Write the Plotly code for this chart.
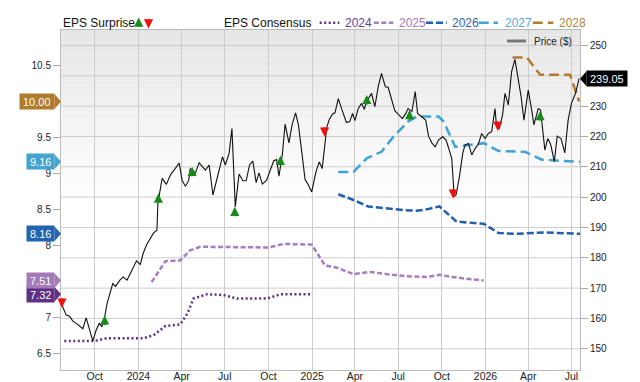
import plotly.graph_objects as go

# ---------------- data ----------------
price_dates = [
    "2023-07-24","2023-08-02","2023-08-09","2023-08-16","2023-08-24","2023-09-06","2023-09-13","2023-09-20","2023-09-27","2023-10-04",
    "2023-10-11","2023-10-16","2023-10-22","2023-10-27","2023-11-03","2023-11-08","2023-11-14","2023-11-23","2023-11-30","2023-12-08",
    "2023-12-15","2023-12-22","2023-12-28","2024-01-05","2024-01-11","2024-01-18","2024-01-26","2024-02-02","2024-02-09","2024-02-11",
    "2024-02-20","2024-02-29","2024-03-08","2024-03-15","2024-03-27","2024-04-02","2024-04-09","2024-04-16","2024-04-19","2024-04-30",
    "2024-05-08","2024-05-21","2024-05-29","2024-06-06","2024-06-14","2024-06-26","2024-07-02","2024-07-10","2024-07-16","2024-07-23",
    "2024-07-31","2024-08-08","2024-08-15","2024-08-22","2024-08-29","2024-09-05","2024-09-11","2024-09-18","2024-09-27","2024-10-05",
    "2024-10-12","2024-10-18","2024-10-23","2024-10-30","2024-11-05","2024-11-13","2024-11-20","2024-11-27","2024-12-03","2024-12-10",
    "2024-12-17","2024-12-23","2024-12-31","2025-01-09","2025-01-16","2025-01-22","2025-01-28","2025-02-01","2025-02-06","2025-02-13",
    "2025-02-18","2025-02-25","2025-03-05","2025-03-14","2025-03-21","2025-03-27","2025-04-01","2025-04-08","2025-04-15","2025-04-21",
    "2025-04-24","2025-05-01","2025-05-06","2025-05-13","2025-05-20","2025-05-27","2025-06-04","2025-06-10","2025-06-17","2025-06-24",
    "2025-07-01","2025-07-10","2025-07-17","2025-07-22","2025-07-30","2025-08-06","2025-08-11","2025-08-20","2025-08-28","2025-09-03",
    "2025-09-10","2025-09-17","2025-09-24","2025-10-03","2025-10-10","2025-10-17","2025-10-22","2025-10-27","2025-10-31","2025-11-07",
    "2025-11-14","2025-11-19","2025-11-26","2025-12-03","2025-12-10","2025-12-17","2025-12-24","2025-12-31","2026-01-07","2026-01-14",
    "2026-01-21","2026-01-24","2026-01-30","2026-02-06","2026-02-11","2026-02-18","2026-02-25","2026-03-04","2026-03-11","2026-03-17",
    "2026-03-23","2026-04-01","2026-04-08","2026-04-13","2026-04-22","2026-04-27","2026-05-06","2026-05-12","2026-05-18","2026-05-26",
    "2026-06-01","2026-06-09","2026-06-17","2026-06-24","2026-07-01","2026-07-10","2026-07-17",
]
price_values = [
    164.4,161.1,160.7,159.1,158.3,156.6,160.2,156.3,152.6,156.1,
    158.5,157.2,160.5,164.9,169.3,171.5,170.6,172.6,173.7,172.6,
    174.8,177.2,179.0,177.8,181.4,184.2,186.3,188.2,189.1,197.9,
    206.2,204.2,207.2,208.8,211.2,205.5,203.6,205.5,209.4,208.0,
    211.3,208.9,210.6,200.7,206.1,213.3,210.6,214.4,222.6,196.8,
    207.6,205.4,205.4,210.6,211.9,204.8,208.0,204.3,205.6,208.9,
    212.0,212.4,206.9,213.9,224.1,217.9,224.1,227.8,223.8,215.0,
    205.8,204.3,201.7,208.4,211.6,209.4,216.6,223.2,225.6,227.4,
    227.8,232.5,228.7,224.6,224.9,227.6,225.2,229.2,230.9,228.9,
    231.1,233.1,234.2,229.8,236.4,240.8,236.4,236.2,232.0,228.5,
    227.4,225.9,227.6,229.2,228.2,234.8,227.6,226.5,225.4,220.1,
    217.9,216.6,218.8,219.9,218.8,215.3,212.7,200.3,200.7,206.7,
    214.4,217.2,217.7,213.9,216.0,217.5,221.0,219.3,221.0,221.6,
    229.2,223.8,222.6,227.1,234.2,230.4,241.4,245.4,239.1,233.1,
    225.4,235.3,228.9,223.8,229.2,228.7,215.5,219.3,217.5,211.7,
    220.1,219.3,214.6,225.4,230.9,234.4,239.05,
]

eps2024_dates = ["2023-07-29","2023-09-29","2023-10-27","2024-01-12","2024-02-02","2024-02-27","2024-03-29",
                 "2024-04-13","2024-04-26","2024-05-24","2024-06-28","2024-07-27","2024-09-28","2024-10-26","2024-12-28"]
eps2024 = [6.67,6.67,6.71,6.71,6.75,6.88,6.90,7.05,7.26,7.32,7.31,7.26,7.26,7.32,7.32]

eps2025_dates = ["2024-01-29","2024-02-27","2024-03-29","2024-04-19","2024-05-10","2024-10-01","2024-11-02","2024-12-31",
                 "2025-01-28","2025-02-22","2025-03-29","2025-05-03","2025-06-07","2025-07-19","2025-08-30","2025-09-27",
                 "2025-10-22","2025-12-28"]
eps2025 = [7.49,7.78,7.79,7.93,7.98,7.97,8.02,8.01,7.72,7.69,7.60,7.63,7.60,7.57,7.56,7.59,7.56,7.51]

eps2026_dates = ["2025-02-25","2025-03-29","2025-04-29","2025-06-07","2025-07-12","2025-08-09","2025-08-30","2025-09-26",
                 "2025-10-18","2025-11-01","2025-12-28","2026-01-29","2026-03-09","2026-05-03","2026-07-19"]
eps2026 = [8.71,8.63,8.54,8.51,8.49,8.48,8.50,8.54,8.41,8.33,8.30,8.17,8.16,8.18,8.16]

eps2027_dates = ["2025-02-25","2025-03-29","2025-04-26","2025-05-27","2025-06-21","2025-07-22","2025-08-09","2025-09-24",
                 "2025-10-05","2025-10-29","2025-11-23","2025-12-28","2026-01-29","2026-03-25","2026-04-30","2026-05-24",
                 "2026-07-19"]
eps2027 = [9.02,9.02,9.21,9.30,9.51,9.72,9.79,9.79,9.72,9.37,9.39,9.42,9.31,9.30,9.19,9.18,9.16]

eps2028_dates = ["2026-02-27","2026-03-29","2026-04-26","2026-06-28","2026-07-17"]
eps2028 = [10.61,10.61,10.37,10.37,10.00]

surprise_dates = ["2023-07-24","2023-10-22","2024-02-12","2024-04-23","2024-07-22","2024-10-26",
                  "2025-01-27","2025-04-26","2025-07-25","2025-10-25","2026-01-27","2026-04-26"]
surprise_dir = ["down","up","up","up","up","up","down","up","up","down","down","up"]
surprise_price = [163.5,161.0,201.2,210.0,196.8,213.6,219.9,233.7,228.7,199.5,221.8,228.4]

tick_dates = ["2023-10-01","2024-01-01","2024-04-01","2024-07-01","2024-10-01","2025-01-01",
              "2025-04-01","2025-07-01","2025-10-01","2026-01-01","2026-04-01","2026-07-01"]
tick_labels = ["Oct","2024","Apr","Jul","Oct","2025","Apr","Jul","Oct","2026","Apr","Jul"]

# left ticks visible (10 and 7.5 sit under the badges), right ticks (240 sits under the price badge)
eps_ticks = [6.5, 7, 8, 8.5, 9, 9.5, 10.5]
price_ticks = [150, 160, 170, 180, 190, 200, 210, 220, 230, 250]
price_grid = [150, 160, 170, 180, 190, 200, 210, 220, 230, 240, 250]

series_names = ["2024","2025","2026","2027","2028"]

# ---------------- styling ----------------
FONT = "Liberation Sans, Arial, sans-serif"
L, T, W, H = 61, 30, 519, 340
def px(x):  # pixel -> paper x
    return (x - L) / W
def py(y):  # pixel -> paper y
    return (T + H - y) / H

line_colors = ["#5c2d8c", "#a67cc2", "#1f5fae", "#3fa3d5", "#b07b2e"]
text_colors = ["#6a3d9a", "#a07ab9", "#2d64ad", "#5aa8d6", "#b0843c"]
badge_colors = ["#5e2f85", "#a47ab8", "#2264b2", "#45a3cf", "#b07b2e"]
dashes = ["2px,2.5px", "5px,2.5px", "7px,3px", "10px,5px", "10px,5px"]
GREEN, RED = "#1a8a1a", "#ee1111"
ARW = dict(arrowhead=2, arrowsize=0.8, arrowwidth=2.3)

eps_dates = [eps2024_dates, eps2025_dates, eps2026_dates, eps2027_dates, eps2028_dates]
eps_vals = [eps2024, eps2025, eps2026, eps2027, eps2028]

fig = go.Figure()

for d, v, c, ds in zip(eps_dates, eps_vals, line_colors, dashes):
    fig.add_trace(go.Scatter(x=d, y=v, mode="lines", yaxis="y",
                             line=dict(color=c, width=2.5, dash=ds),
                             showlegend=False, hoverinfo="skip"))

fig.add_trace(go.Scatter(x=price_dates, y=price_values, mode="lines", yaxis="y2",
                         line=dict(color="#111111", width=1.1),
                         showlegend=False, hoverinfo="skip"))

annotations = []
shapes = []

# background gradient (top half of plot)
N = 40
for i in range(N):
    t = (i + 0.5) / N
    g = int(round(255 - (255 - 229) * t))
    shapes.append(dict(type="rect", xref="paper", yref="paper", x0=0, x1=1,
                       y0=0.5 + 0.5 * i / N, y1=0.5 + 0.5 * (i + 1) / N,
                       fillcolor=f"rgb({g},{g},{g})", line=dict(width=0), layer="below"))

# surprise arrows
for d, s, p in zip(surprise_dates, surprise_dir, surprise_price):
    up = s == "up"
    annotations.append(dict(x=d, y=p, xref="x", yref="y2", text="", showarrow=True,
                            ax=0, ay=11 if up else -11, arrowcolor=GREEN if up else RED, **ARW))

# EPS badges at left
for v, c in zip(eps_vals, badge_colors):
    last = v[-1]
    annotations.append(dict(x=0, y=last, xref="paper", yref="y", xanchor="right", yanchor="middle",
                            xshift=-6, text=f"{last:.2f}", showarrow=False, bgcolor=c,
                            borderpad=3, height=9, font=dict(family=FONT, size=11, color="white")))
    shapes.append(dict(type="path", xref="paper", yref="y", xsizemode="pixel", ysizemode="pixel",
                       xanchor=0, yanchor=last, path="M -6.5,7.5 L 0,0 L -6.5,-7.5 Z",
                       fillcolor=c, line=dict(width=0), layer="above"))

# price badge at right
lastp = price_values[-1]
annotations.append(dict(x=1, y=lastp, xref="paper", yref="y2", xanchor="left", yanchor="middle",
                        xshift=6, text=f"{lastp:.2f}", showarrow=False, bgcolor="black",
                        borderpad=3, height=9, font=dict(family=FONT, size=11, color="white")))
shapes.append(dict(type="path", xref="paper", yref="y2", xsizemode="pixel", ysizemode="pixel",
                   xanchor=1, yanchor=lastp, path="M 6.5,7.5 L 0,0 L 6.5,-7.5 Z",
                   fillcolor="black", line=dict(width=0), layer="above"))

# top legend
ly = py(22.8)
annotations.append(dict(x=px(60.7), y=ly, xref="paper", yref="paper", xanchor="left", yanchor="middle",
                        text="EPS Surprise", showarrow=False, font=dict(family=FONT, size=12, color="#111")))
annotations.append(dict(x=px(138.7), y=py(17.5), xref="paper", yref="paper", text="", showarrow=True,
                        ax=0, ay=11, arrowcolor=GREEN, **ARW))
annotations.append(dict(x=px(148.5), y=py(28.5), xref="paper", yref="paper", text="", showarrow=True,
                        ax=0, ay=-11, arrowcolor=RED, **ARW))
annotations.append(dict(x=px(222), y=ly, xref="paper", yref="paper", xanchor="left", yanchor="middle",
                        text="EPS Consensus", showarrow=False, font=dict(family=FONT, size=12, color="#111")))
sample_x = [(319.7, 339.3, 343.4), (373.8, 393.4, 396.7), (426.0, 446.7, 450.0),
            (478.7, 498.0, 503.0), (532.8, 553.3, 556.5)]
for name, (a, b, tx), c, tc, ds in zip(series_names, sample_x, line_colors, text_colors, dashes):
    shapes.append(dict(type="line", xref="paper", yref="paper", x0=px(a), x1=px(b), y0=ly, y1=ly,
                       line=dict(color=c, width=2.5, dash=ds)))
    annotations.append(dict(x=px(tx), y=ly, xref="paper", yref="paper", xanchor="left", yanchor="middle",
                            text=name, showarrow=False, font=dict(family=FONT, size=12, color=tc)))

# price legend inside plot
shapes.append(dict(type="line", xref="paper", yref="paper", x0=px(507), x1=px(526), y0=py(41), y1=py(41),
                   line=dict(color="#777777", width=3)))
annotations.append(dict(x=px(532), y=py(41), xref="paper", yref="paper", xanchor="left", yanchor="middle",
                        text="Price ($)", showarrow=False, font=dict(family=FONT, size=10, color="#222")))

fig.update_layout(
    width=640, height=382,
    margin=dict(l=L, r=640 - L - W, t=T, b=382 - T - H, autoexpand=False),
    paper_bgcolor="white", plot_bgcolor="white",
    font=dict(family=FONT, size=10, color="#222"),
    showlegend=False,
    xaxis=dict(type="date", range=["2023-07-22", "2026-07-19"], automargin=False,
               tickmode="array", tickvals=tick_dates, ticktext=tick_labels,
               showgrid=True, gridcolor="#cccccc", gridwidth=1,
               showline=True, linecolor="#bbbbbb", mirror=True,
               ticks="", ticklabelstandoff=-4,
               tickfont=dict(family=FONT, size=10.5, color="#222"),
               zeroline=False),
    yaxis=dict(range=[6.268, 10.992], automargin=False, tickmode="array", tickvals=eps_ticks,
               showgrid=False, zeroline=False, showline=True, linecolor="#bbbbbb",
               ticks="outside", ticklen=7, tickcolor="#aaaaaa",
               tickfont=dict(family=FONT, size=10, color="#222")),
    yaxis2=dict(range=[143.0, 255.1], automargin=False, overlaying="y", side="right",
                tickmode="array", tickvals=price_ticks,
                showgrid=False, zeroline=False,
                showline=True, linecolor="#bbbbbb",
                ticks="outside", ticklen=7, tickcolor="#aaaaaa",
                tickfont=dict(family=FONT, size=10, color="#222")),
    shapes=shapes, annotations=annotations,
)

# horizontal gridlines at the price ticks
for g in price_grid:
    fig.add_shape(type="line", xref="paper", yref="y2", x0=0, x1=1, y0=g, y1=g,
                  line=dict(color="#cccccc", width=1), layer="below")

fig.write_html("out.html")
